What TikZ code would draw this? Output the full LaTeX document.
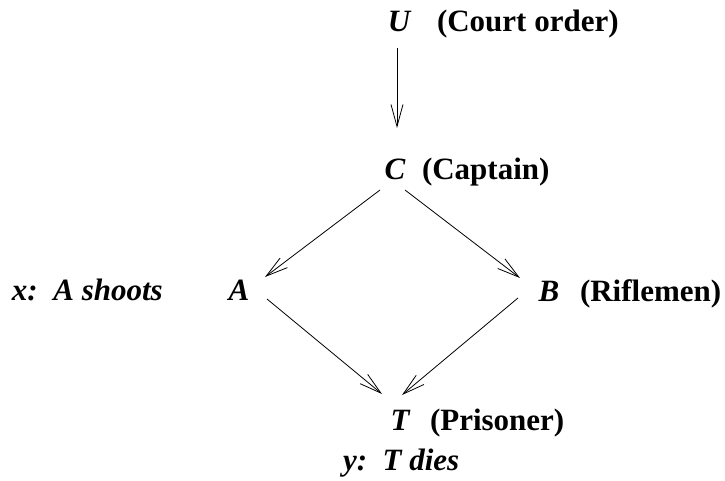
\documentclass[tikz,border=0pt]{standalone}
\usepackage{fontspec}
\setmainfont{Liberation Serif}
\usetikzlibrary{arrows.meta,calc}
\begin{document}
\begin{tikzpicture}[x=1pt,y=-1pt,
  every node/.style={inner sep=0pt,outer sep=0pt,font=\fontsize{31}{37}\selectfont\bfseries},
  var/.style={anchor=base,font=\fontsize{31}{37}\selectfont\bfseries\itshape},
  lbl/.style={anchor=base west},
  ilbl/.style={anchor=base west,font=\fontsize{31}{37}\selectfont\bfseries\itshape},
  arr/.style={line width=0.8pt,-{Straight Barb[length=22pt,width=12pt,line width=0.8pt]}}]
\useasboundingbox (0,0) rectangle (725,481);
\node[var] (U) at (399,32) {U};
\node[lbl] (Ul) at (437,32) {(Court order)};
\node[var] (C) at (395,180) {C};
\node[lbl] (Cl) at (422,180) {(Captain)};
\node[var] (A) at (239,300) {A};
\node[ilbl] (Al) at (12,300) {x:\ \ A shoots};
\node[var] (B) at (549,301) {B};
\node[lbl] (Bl) at (580,301) {(Riflemen)};
\node[var] (T) at (400,430) {T};
\node[lbl] (Tl) at (430,430) {(Prisoner)};
\node[ilbl] (Tx) at (343,470) {y:\ \ T dies};
\draw[arr] ($(U.base)+(-2,16)$) -- ($(U.base)+(-2,96)$);
\draw[arr] ($(C.base)+(-15,10)$) -- ($(A.base)+(26,-23)$);
\draw[arr] ($(C.base)+(10,10)$) -- ($(B.base)+(-29,-23)$);
\draw[arr] ($(A.base)+(28,-1)$) -- ($(T.base)+(-18,-36)$);
\draw[arr] ($(B.base)+(-31,-3)$) -- ($(T.base)+(2,-35)$);
\end{tikzpicture}
\end{document}
